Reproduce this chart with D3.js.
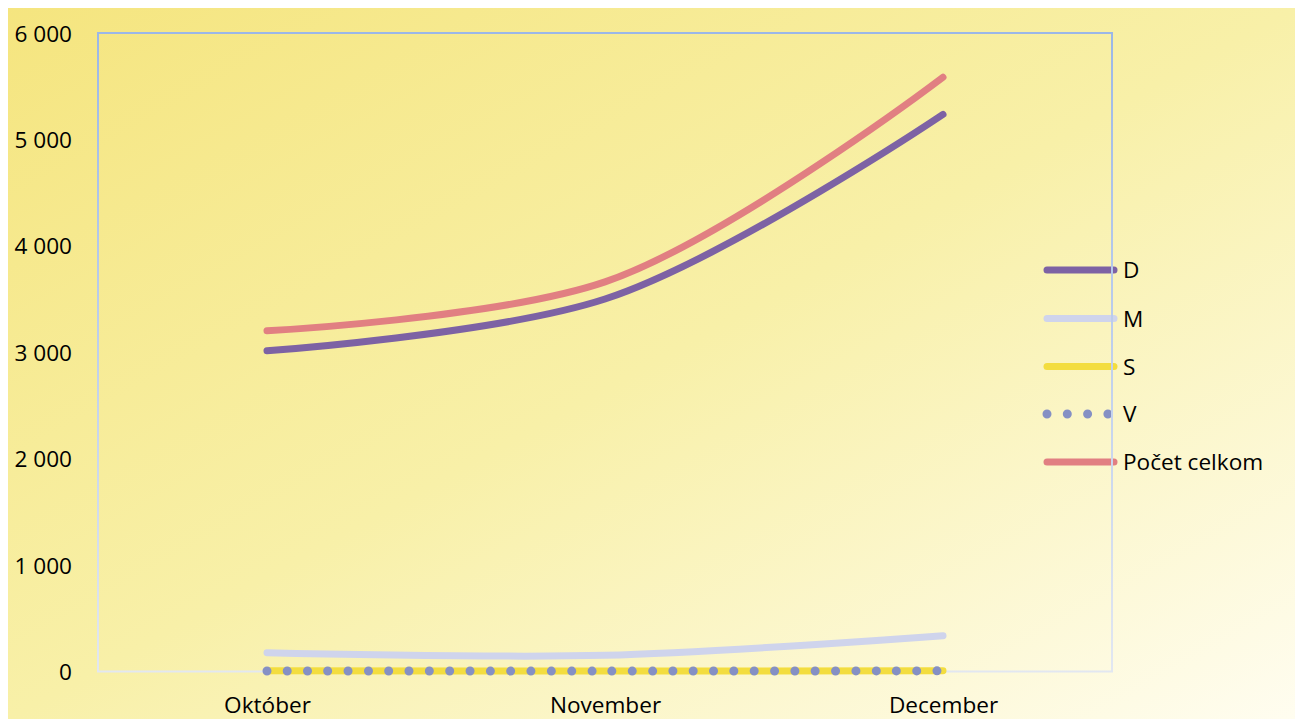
<!DOCTYPE html>
<html>
<head>
<meta charset="utf-8">
<script src="https://cdn.jsdelivr.net/npm/d3@7"></script>
<style>
  html, body { margin: 0; padding: 0; background: #ffffff; }
  svg { display: block; }
  text { font-family: "Open Sans", sans-serif; fill: #000; }
</style>
</head>
<body>
<svg id="chart" width="1298" height="719"></svg>
<script>
const categories = ["Október", "November", "December"];
const seriesNames = ["D", "M", "S", "V", "Počet celkom"];
const valuesD = [3014, 3500, 5235];
const valuesM = [177, 152, 336];
const valuesS = [6, 5, 7];
const valuesV = [5, 4, 6];
const valuesTotal = [3202, 3661, 5584];
const yTicks = [0, 1000, 2000, 3000, 4000, 5000, 6000];
const seriesColors = ["#7d62a4", "#cfd4ec", "#f3dd3f", "#8590c4", "#e17f82"];

const series = [
  { name: seriesNames[0], values: valuesD, color: seriesColors[0], dotted: false },
  { name: seriesNames[1], values: valuesM, color: seriesColors[1], dotted: false },
  { name: seriesNames[2], values: valuesS, color: seriesColors[2], dotted: false },
  { name: seriesNames[3], values: valuesV, color: seriesColors[3], dotted: true },
  { name: seriesNames[4], values: valuesTotal, color: seriesColors[4], dotted: false }
];

const svg = d3.select("#chart");
const W = 1298, H = 719;
const plot = { left: 98, right: 1112, top: 33, bottom: 671.5 };
const FS = 22.6;

const defs = svg.append("defs");
const bg = defs.append("linearGradient").attr("id", "bg")
  .attr("x1", 0).attr("y1", 0).attr("x2", 1).attr("y2", 1);
bg.append("stop").attr("offset", "0%").attr("stop-color", "#f5e57f");
bg.append("stop").attr("offset", "50%").attr("stop-color", "#f8f0a8");
bg.append("stop").attr("offset", "100%").attr("stop-color", "#fffdf0");

const fr = defs.append("linearGradient").attr("id", "frame")
  .attr("gradientUnits", "userSpaceOnUse")
  .attr("x1", 0).attr("y1", plot.top).attr("x2", 0).attr("y2", plot.bottom);
fr.append("stop").attr("offset", "0%").attr("stop-color", "#9bb7e8");
fr.append("stop").attr("offset", "100%").attr("stop-color", "#e2e7f1");

svg.append("rect").attr("x", 8).attr("y", 8).attr("width", 1287).attr("height", H - 8)
  .attr("fill", "url(#bg)");

const x = d3.scaleBand().domain(categories).range([plot.left, plot.right]).padding(0);
const y = d3.scaleLinear().domain([0, 6000]).range([plot.bottom, plot.top]);
const cx = c => x(c) + x.bandwidth() / 2;

const fmt = v => d3.format(",")(v).replace(/,/g, " ");

// Y axis
const yAxis = svg.append("g").attr("transform", `translate(${plot.left},0)`)
  .call(d3.axisLeft(y).tickValues(yTicks).tickSize(0).tickPadding(26).tickFormat(fmt));
yAxis.select(".domain").remove();
yAxis.selectAll("text").attr("font-size", FS).attr("font-family", "Open Sans").attr("fill", "#000").attr("dy", "0.36em");

// X axis
const xAxis = svg.append("g").attr("transform", `translate(0,${plot.bottom})`)
  .call(d3.axisBottom(d3.scalePoint().domain(categories).range([cx(categories[0]), cx(categories[2])]))
    .tickSize(0).tickPadding(25));
xAxis.select(".domain").remove();
xAxis.selectAll("text").attr("font-size", FS).attr("font-family", "Open Sans").attr("fill", "#000");

// Legend
const legendY = [270, 318.5, 366.5, 414, 462];
const lg = svg.append("g");
series.forEach((s, i) => {
  const g = lg.append("g").attr("transform", `translate(0,${legendY[i]})`);
  const ln = g.append("line").attr("x1", 1047).attr("x2", s.dotted ? 1110 : 1114)
    .attr("y1", 0).attr("y2", 0).attr("stroke", s.color)
    .attr("stroke-linecap", "round");
  if (s.dotted) ln.attr("stroke-width", 9).attr("stroke-dasharray", "0 20.3");
  else ln.attr("stroke-width", 7);
  g.append("text").attr("x", 1123).attr("y", 0).attr("dy", "0.36em")
    .attr("font-size", FS).text(s.name);
});

// Frame
svg.append("rect").attr("x", plot.left).attr("y", plot.top)
  .attr("width", plot.right - plot.left).attr("height", plot.bottom - plot.top)
  .attr("fill", "none").attr("stroke", "url(#frame)").attr("stroke-width", 2);

// Series lines
const line = d3.line()
  .x((d, i) => cx(categories[i]))
  .y(d => y(d))
  .curve(d3.curveCatmullRom.alpha(1));

const drawOrder = [1, 2, 3, 0, 4];
drawOrder.forEach(i => {
  const s = series[i];
  const p = svg.append("path").attr("d", line(s.values))
    .attr("fill", "none").attr("stroke", s.color)
    .attr("stroke-linecap", "round").attr("stroke-linejoin", "round");
  if (s.dotted) p.attr("stroke-width", 9).attr("stroke-dasharray", "0 20.3");
  else p.attr("stroke-width", 7);
});
</script>
</body>
</html>
